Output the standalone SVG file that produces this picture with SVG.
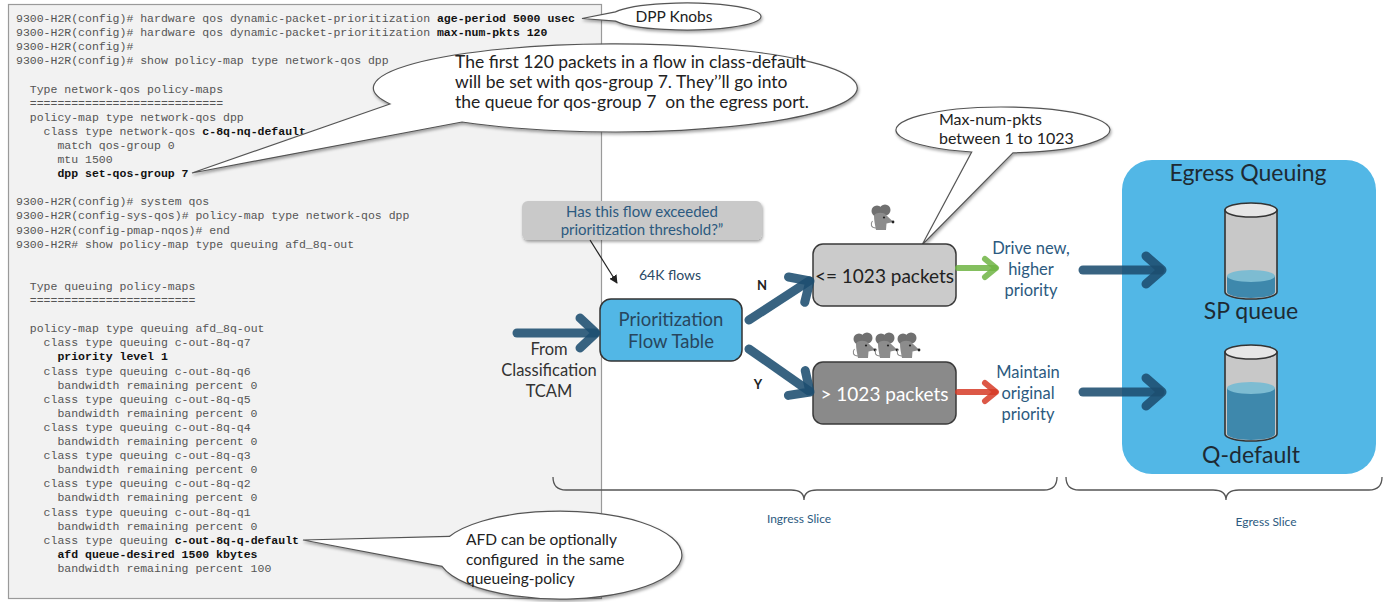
<svg xmlns="http://www.w3.org/2000/svg" width="1390" height="602" viewBox="0 0 1390 602">
  <defs>
    <style>
      .code{font-family:"Liberation Mono","DejaVu Sans Mono",monospace;font-size:11.5px;fill:#555}
      .b{font-weight:bold;fill:#111}
      .lbl{font-family:Lato,"Open Sans","Liberation Sans",sans-serif}
      .pre{white-space:pre}
      .callout{fill:#fff;stroke:#555;stroke-width:1.2;filter:url(#shadow)}
      .thick{fill:none;stroke:#1d4d70;stroke-width:9;stroke-linecap:round;stroke-linejoin:round;stroke-opacity:.88}
      .green{fill:none;stroke:#6fb443;stroke-width:6;stroke-linecap:round;stroke-linejoin:round;stroke-opacity:.85}
      .red{fill:none;stroke:#d63b27;stroke-width:6;stroke-linecap:round;stroke-linejoin:round;stroke-opacity:.85}
      .brace{fill:none;stroke:#555;stroke-width:1.3}
      .blue-txt{fill:#2c5a80}
      .cyl{fill:#c8c8c8;stroke:#333;stroke-width:1.6}
      .cyl-top{fill:#e6e6e6;stroke:#333;stroke-width:1.6}
      .liq{fill:#3e88ac}
      .liq-top{fill:#7dbcd2}
    </style>
    <filter id="shadow" x="-10%" y="-20%" width="120%" height="150%">
      <feDropShadow dx="1" dy="2" stdDeviation="1.5" flood-color="#000" flood-opacity=".35"/>
    </filter>
    <marker id="thinhead" viewBox="0 0 10 10" refX="9" refY="5" markerWidth="7" markerHeight="7" orient="auto">
      <path d="M0 0 L10 5 L0 10 Z" fill="#222"/>
    </marker>
    <symbol id="mouse" viewBox="0 0 26 26" width="26" height="26">
      <circle cx="8" cy="7" r="5.5" fill="#707070"/>
      <circle cx="16" cy="6" r="5.5" fill="#707070"/>
      <path d="M5 12 C6 8 15 8 17 11 L24.5 18 L17.5 19.5 L17 26 L7 26 C6 21 5 16 5 12 Z" fill="#8c8c8c"/>
      <circle cx="15" cy="13.5" r="1.1" fill="#222"/>
      <circle cx="24" cy="18" r="1.4" fill="#222"/>
      <path d="M7 24 C2 24 1 20 3.5 17" fill="none" stroke="#8c8c8c" stroke-width="1.1"/>
    </symbol>
  </defs>

  <rect width="1390" height="602" fill="#fff"/>

  <!-- CLI configuration panel -->
  <g id="cli-panel">
    <rect x="8.5" y="4.5" width="593" height="594" fill="#f2f2f2" stroke="#9a9a9a" stroke-width="1.2"/>
    <text class="code" x="16" y="22">9300-H2R(config)# hardware qos dynamic-packet-prioritization <tspan class="b">age-period 5000 usec</tspan></text>
    <text class="code" x="16" y="36.1">9300-H2R(config)# hardware qos dynamic-packet-prioritization <tspan class="b">max-num-pkts 120</tspan></text>
    <text class="code" x="16" y="50.2">9300-H2R(config)#</text>
    <text class="code" x="16" y="64.3">9300-H2R(config)# show policy-map type network-qos dpp</text>
    <text class="code" x="29.8" y="92.5">Type network-qos policy-maps</text>
    <text class="code" x="29.8" y="106.6">============================</text>
    <text class="code" x="29.8" y="120.7">policy-map type network-qos dpp</text>
    <text class="code" x="43.6" y="134.8">class type network-qos <tspan class="b">c-8q-nq-default</tspan></text>
    <text class="code" x="57.4" y="148.9">match qos-group 0</text>
    <text class="code" x="57.4" y="163">mtu 1500</text>
    <text class="code b" x="57.4" y="177.1">dpp set-qos-group 7</text>
    <text class="code" x="16" y="205.3">9300-H2R(config)# system qos</text>
    <text class="code" x="16" y="219.4">9300-H2R(config-sys-qos)# policy-map type network-qos dpp</text>
    <text class="code" x="16" y="233.5">9300-H2R(config-pmap-nqos)# end</text>
    <text class="code" x="16" y="247.6">9300-H2R# show policy-map type queuing afd_8q-out</text>
    <text class="code" x="29.8" y="289.9">Type queuing policy-maps</text>
    <text class="code" x="29.8" y="304">========================</text>
    <text class="code" x="29.8" y="332.2">policy-map type queuing afd_8q-out</text>
    <text class="code" x="43.6" y="346.3">class type queuing c-out-8q-q7</text>
    <text class="code b" x="57.4" y="360.4">priority level 1</text>
    <text class="code" x="43.6" y="374.5">class type queuing c-out-8q-q6</text>
    <text class="code" x="57.4" y="388.6">bandwidth remaining percent 0</text>
    <text class="code" x="43.6" y="402.7">class type queuing c-out-8q-q5</text>
    <text class="code" x="57.4" y="416.8">bandwidth remaining percent 0</text>
    <text class="code" x="43.6" y="430.9">class type queuing c-out-8q-q4</text>
    <text class="code" x="57.4" y="445">bandwidth remaining percent 0</text>
    <text class="code" x="43.6" y="459.1">class type queuing c-out-8q-q3</text>
    <text class="code" x="57.4" y="473.2">bandwidth remaining percent 0</text>
    <text class="code" x="43.6" y="487.3">class type queuing c-out-8q-q2</text>
    <text class="code" x="57.4" y="501.4">bandwidth remaining percent 0</text>
    <text class="code" x="43.6" y="515.5">class type queuing c-out-8q-q1</text>
    <text class="code" x="57.4" y="529.6">bandwidth remaining percent 0</text>
    <text class="code" x="43.6" y="543.7">class type queuing <tspan class="b">c-out-8q-q-default</tspan></text>
    <text class="code b" x="57.4" y="557.8">afd queue-desired 1500 kbytes</text>
    <text class="code" x="57.4" y="571.9">bandwidth remaining percent 100</text>
  </g>

  <!-- speech-bubble callouts -->
  <g id="callout-dpp-knobs">
    <path class="callout" d="M615.5 11.9 A75 13.5 0 1 1 615.5 21.1 L582 18.5 Z"/>
    <text class="lbl" x="674" y="22" font-size="15.5" text-anchor="middle" fill="#222">DPP Knobs</text>
  </g>

  <g id="callout-first-packets">
    <path class="callout" d="M390 104 A242 44 0 1 1 462 122 L192 173 Z"/>
    <text class="lbl pre" x="455" y="68" font-size="17.5" fill="#222">The first 120 packets in a flow in class-default</text>
    <text class="lbl pre" x="455" y="88" font-size="17.5" fill="#222">will be set with qos-group 7. They’’ll go into</text>
    <text class="lbl pre" x="455" y="108" font-size="17.5" fill="#222">the queue for qos-group 7  on the egress port.</text>
  </g>

  <g id="callout-max-num-pkts">
    <path class="callout" d="M971.7 152 A107 23 0 1 1 1013 152.9 L922 245 Z"/>
    <text class="lbl" x="939" y="125" font-size="16" fill="#222">Max-num-pkts</text>
    <text class="lbl" x="939" y="144" font-size="16" fill="#222">between 1 to 1023</text>
  </g>

  <g id="callout-afd">
    <path class="callout" d="M449.4 536.4 A122 44 0 1 1 442 566.4 L303 540 Z"/>
    <text class="lbl pre" x="466" y="545" font-size="15.5" fill="#222">AFD can be optionally</text>
    <text class="lbl pre" x="466" y="565" font-size="15.5" fill="#222">configured  in the same</text>
    <text class="lbl pre" x="466" y="584" font-size="15.5" fill="#222">queueing-policy</text>
  </g>

  <!-- question tooltip -->
  <g id="threshold-question">
    <rect x="522" y="201" width="240" height="39" rx="6" fill="#c9c9c9" filter="url(#shadow)"/>
    <text class="lbl blue-txt" x="642" y="217" font-size="15" text-anchor="middle">Has this flow exceeded</text>
    <text class="lbl blue-txt" x="642" y="235" font-size="15" text-anchor="middle">prioritization threshold?”</text>
  </g>

  <g id="flows-label">
    <text class="lbl" x="670" y="280" font-size="14" text-anchor="middle" fill="#2a4a66">64K flows</text>
  </g>

  <g id="source-label">
    <text class="lbl" x="549" y="355" font-size="16.5" text-anchor="middle" fill="#333">From</text>
    <text class="lbl" x="549" y="376" font-size="16.5" text-anchor="middle" fill="#333">Classification</text>
    <text class="lbl" x="549" y="397" font-size="16.5" text-anchor="middle" fill="#333">TCAM</text>
  </g>

  <g id="flow-table">
    <rect x="600" y="299" width="142" height="62" rx="11" fill="#52b7e6" stroke="#333" stroke-width="1.5"/>
    <text class="lbl" x="671" y="326" font-size="18.5" text-anchor="middle" fill="#28465e">Prioritization</text>
    <text class="lbl" x="671" y="348" font-size="18.5" text-anchor="middle" fill="#28465e">Flow Table</text>
  </g>

  <g id="small-flows">
    <rect x="813" y="244" width="143" height="62" rx="10" fill="#cbcbcb" stroke="#3a3a3a" stroke-width="1.5"/>
    <text class="lbl" x="884.5" y="283" font-size="19" text-anchor="middle" fill="#222">&lt;= 1023 packets</text>
    <use href="#mouse" x="869" y="204"/>
  </g>

  <g id="large-flows">
    <rect x="813" y="362" width="143" height="62" rx="10" fill="#8a8a8a" stroke="#3a3a3a" stroke-width="1.5"/>
    <text class="lbl" x="884.5" y="401" font-size="19" text-anchor="middle" fill="#fff">&gt; 1023 packets</text>
    <use href="#mouse" x="851" y="332"/>
    <use href="#mouse" x="873" y="332"/>
    <use href="#mouse" x="895" y="332"/>
  </g>

  <g id="priority-high">
    <text class="lbl blue-txt" x="1031" y="254" font-size="16.5" text-anchor="middle">Drive new,</text>
    <text class="lbl blue-txt" x="1031" y="275" font-size="16.5" text-anchor="middle">higher</text>
    <text class="lbl blue-txt" x="1031" y="296" font-size="16.5" text-anchor="middle">priority</text>
  </g>

  <g id="priority-original">
    <text class="lbl blue-txt" x="1028" y="378" font-size="16.5" text-anchor="middle">Maintain</text>
    <text class="lbl blue-txt" x="1028" y="399" font-size="16.5" text-anchor="middle">original</text>
    <text class="lbl blue-txt" x="1028" y="420" font-size="16.5" text-anchor="middle">priority</text>
  </g>

  <g id="egress-queuing">
    <rect x="1122" y="160" width="254" height="314" rx="30" fill="#52b7e6"/>
    <text class="lbl" x="1248" y="181" font-size="23" text-anchor="middle" fill="#1e2a33">Egress Queuing</text>
    <!-- strict-priority queue -->
    <path class="cyl" d="M1225 210 L1225 292 A26 7 0 0 0 1277 292 L1277 210 Z"/>
    <path class="liq" d="M1227 276 L1227 292 A24 6 0 0 0 1275 292 L1275 276 Z"/>
    <ellipse class="liq-top" cx="1251" cy="276" rx="24" ry="6"/>
    <ellipse class="cyl-top" cx="1251" cy="210" rx="26" ry="7"/>
    <text class="lbl" x="1251" y="319" font-size="23" text-anchor="middle" fill="#1e2a33">SP queue</text>
    <!-- default queue -->
    <path class="cyl" d="M1225 352 L1225 434 A26 7 0 0 0 1277 434 L1277 352 Z"/>
    <path class="liq" d="M1227 388 L1227 434 A24 6 0 0 0 1275 434 L1275 388 Z"/>
    <ellipse class="liq-top" cx="1251" cy="388" rx="24" ry="6"/>
    <ellipse class="cyl-top" cx="1251" cy="352" rx="26" ry="7"/>
    <text class="lbl" x="1251" y="463" font-size="23" text-anchor="middle" fill="#1e2a33">Q-default</text>
  </g>

  <g id="slice-braces">
    <path class="brace" d="M553 477 Q553 490 566 490 L791 490 Q804 490 804 500 Q804 490 817 490 L1044 490 Q1057 490 1057 477"/>
    <path class="brace" d="M1066 477 Q1066 490 1079 490 L1213 490 Q1226 490 1226 500 Q1226 490 1239 490 L1369 490 Q1382 490 1382 477"/>
    <text class="lbl blue-txt" x="799" y="523" font-size="12" text-anchor="middle">Ingress Slice</text>
    <text class="lbl blue-txt" x="1266" y="526" font-size="12" text-anchor="middle">Egress Slice</text>
  </g>

  <!-- connectors -->
  <g id="connectors">
    <path d="M590 240 L617 283" fill="none" stroke="#222" stroke-width="1.2" marker-end="url(#thinhead)"/>
    <path class="thick" d="M517 333 L595 333"/>
    <path class="thick" d="M580 318 L596 333 L580 348"/>
    <path class="thick" d="M749 320 L809 281"/>
    <path class="thick" d="M788.5 277 L810 281 L804.7 302.3"/>
    <path class="thick" d="M749 349 L809 391"/>
    <path class="thick" d="M805.2 370.6 L810 392 L788.4 395.4"/>
    <path class="green" d="M958 268 L995 268"/>
    <path class="green" d="M985 259 L996 268 L985 277"/>
    <path class="red" d="M958 392 L995 392"/>
    <path class="red" d="M985 383 L996 392 L985 401"/>
    <path class="thick" d="M1083 270 L1160 270"/>
    <path class="thick" d="M1146 256 L1162 270 L1146 284"/>
    <path class="thick" d="M1083 392 L1160 392"/>
    <path class="thick" d="M1146 378 L1162 392 L1146 406"/>
    <text class="lbl" x="762" y="290" font-size="13" font-weight="bold" text-anchor="middle" fill="#222">N</text>
    <text class="lbl" x="758" y="389" font-size="13" font-weight="bold" text-anchor="middle" fill="#222">Y</text>
  </g>
</svg>
